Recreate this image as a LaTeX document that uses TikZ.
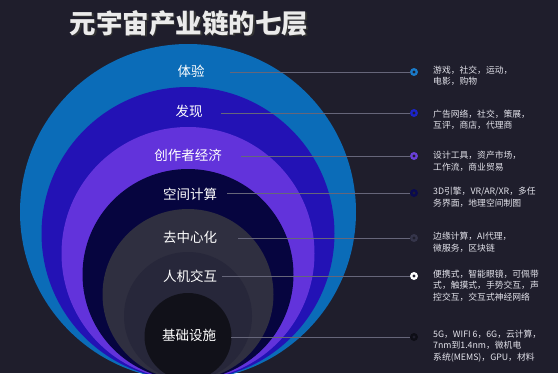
\documentclass[tikz,border=0pt]{standalone}
\usepackage{fontspec}
\newfontfamily\cjk{Noto Sans CJK SC}
\definecolor{bgc}{HTML}{1F1E2C}
\definecolor{c1}{HTML}{0B6CB8}
\definecolor{c2}{HTML}{2312B5}
\definecolor{c3}{HTML}{6233DB}
\definecolor{c4}{HTML}{06053F}
\definecolor{c5}{HTML}{2F2F40}
\definecolor{c6}{HTML}{27273A}
\definecolor{c7}{HTML}{111119}
\definecolor{m1c}{HTML}{1A7AC8}
\definecolor{m2c}{HTML}{1C24C8}
\definecolor{m3c}{HTML}{6A40D8}
\definecolor{m4c}{HTML}{0A0A50}
\definecolor{m5c}{HTML}{35354A}
\definecolor{m7c}{HTML}{0E0E16}
\definecolor{linec}{HTML}{66667A}
\definecolor{txtc}{HTML}{E4E4EC}
\begin{document}
\begin{tikzpicture}[x=1pt,y=-1pt,
  lab/.style={font=\cjk\fontsize{13.5}{16}\selectfont, text=white, inner sep=0pt},
  desc/.style={font=\cjk\fontsize{8.8}{11.5}\selectfont, text=txtc, inner sep=0pt, align=left, anchor=north west},
  mk/.style={circle, minimum size=8pt, inner sep=0pt,
    path picture={\fill[bgc] (path picture bounding box.center) circle (1.6pt);}},
  conn/.style={draw=linec, line width=0.6pt}]
\useasboundingbox (0,0) rectangle (558,373);
\fill[bgc] (0,0) rectangle (558,373);
\begin{scope}
\clip (0,0) rectangle (558,373);
\fill[c1] (188,212) circle[radius=168pt];
\fill[c2] (188,233.5) circle[radius=146.5pt];
\fill[c3] (188,253.5) circle[radius=126.5pt];
\fill[c4] (188,274.5) circle[radius=105.5pt];
\fill[c5] (188,294.5) circle[radius=85.5pt];
\fill[c6] (188,316) circle[radius=64pt];
\fill[c7] (188,336.5) circle[radius=43.5pt];
\end{scope}
% title
\node[font=\cjk\bfseries\fontsize{26.5}{30}\selectfont, text=black!80, inner sep=0pt] at (190.5,24.5) {元宇宙产业链的七层};
\node[font=\cjk\bfseries\fontsize{26.5}{30}\selectfont, text=white!92!black, inner sep=0pt] (title) at (189,23) {元宇宙产业链的七层};
% labels
\node[lab] (l1) at (191,71) {体验};
\node[lab] (l2) at (189,111) {发现};
\node[lab] (l3) at (188,155) {创作者经济};
\node[lab] (l4) at (190,194) {空间计算};
\node[lab] (l5) at (190,237) {去中心化};
\node[lab] (l6) at (190,276) {人机交互};
\node[lab] (l7) at (189,335) {基础设施};
% markers
\node[mk, fill=m1c] (m1) at (414,72) {};
\node[mk, fill=m2c] (m2) at (414,113) {};
\node[mk, fill=m3c] (m3) at (414,156) {};
\node[mk, fill=m4c] (m4) at (414,193) {};
\node[mk, fill=m5c] (m5) at (414,238) {};
\node[mk, fill=white] (m6) at (414,276) {};
\node[mk, fill=m7c] (m7) at (414,337) {};
% connector starts
\coordinate (s1) at (230,72);
\coordinate (s2) at (221,113);
\coordinate (s3) at (241,156);
\coordinate (s4) at (227,193);
\coordinate (s5) at (238,238);
\coordinate (s6) at (222,276);
\coordinate (s7) at (231,337);
\draw[conn] (s1) -- (m1.west);
\draw[conn] (s2) -- (m2.west);
\draw[conn] (s3) -- (m3.west);
\draw[conn] (s4) -- (m4.west);
\draw[conn] (s5) -- (m5.west);
\draw[conn] (s6) -- (m6.west);
\draw[conn] (s7) -- (m7.west);
% descriptions
\node[desc] (t1) at (433,65.5) {游戏，社交，运动，\\电影，购物};
\node[desc] (t2) at (433,109.5) {广告网络，社交，策展，\\互评，商店，代理商};
\node[desc] (t3) at (433,151) {设计工具，资产市场，\\工作流，商业贸易};
\node[desc] (t4) at (433,187) {3D引擎，VR/AR/XR，多任\\务界面，地理空间制图};
\node[desc] (t5) at (433,232) {边缘计算，AI代理，\\微服务，区块链};
\node[desc] (t6) at (433,269.5) {便携式，智能眼镜，可佩带\\式，触摸式，手势交互，声\\控交互，交互式神经网络};
\node[desc] (t7) at (433,329.5) {5G，WIFI 6，6G，云计算，\\7nm到1.4nm，微机电\\系统(MEMS)，GPU，材料};
\end{tikzpicture}
\end{document}
